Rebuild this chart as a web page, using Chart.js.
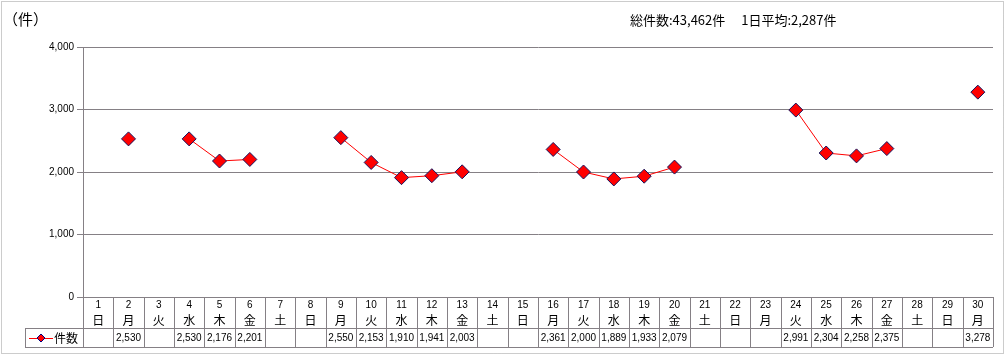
<!DOCTYPE html>
<html><head><meta charset="utf-8">
<script src="https://cdn.jsdelivr.net/npm/chart.js@4"></script>
<style>html,body{margin:0;padding:0;background:#fff;}canvas{display:block;}</style>
</head><body>
<canvas id="c" width="1006" height="355"></canvas>
<script>
const days = ['1','2','3','4','5','6','7','8','9','10','11','12','13','14','15','16','17','18','19','20','21','22','23','24','25','26','27','28','29','30'];
const weekdays = ['日','月','火','水','木','金','土','日','月','火','水','木','金','土','日','月','火','水','木','金','土','日','月','火','水','木','金','土','日','月'];
const counts = [null,2530,null,2530,2176,2201,null,null,2550,2153,1910,1941,2003,null,null,2361,2000,1889,1933,2079,null,null,null,2991,2304,2258,2375,null,null,3278];
const seriesName = '件数';
const unitLabel = '（件）';
const summaryText = '総件数:43,462件　 1日平均:2,287件';
const yTicks = [0,1000,2000,3000,4000];

const fmt = v => v.toLocaleString('en-US');
const JP = '"Noto Sans CJK JP", "Noto Sans", sans-serif';
const NUM = '"Liberation Sans", Arial, sans-serif';
const GRID = '#858085';

const tablePlugin = {
  id: 'tablePlugin',
  beforeDraw(chart) {
    const ctx = chart.ctx;
    ctx.save();
    ctx.fillStyle = '#fff';
    ctx.fillRect(0,0,chart.width,chart.height);
    ctx.strokeStyle = '#999';
    ctx.setLineDash([1,1]);
    ctx.lineWidth = 1;
    ctx.strokeRect(1.5,1.5,chart.width-4,chart.height-3);
    ctx.restore();
  },
  afterDraw(chart) {
    const ctx = chart.ctx;
    const xs = chart.scales.x;
    const area = chart.chartArea;
    const n = days.length;
    const w = (area.right - area.left) / n;
    const top = area.bottom, midY = top + 31, bot = top + 50, legL = 25;
    ctx.save();
    ctx.strokeStyle = GRID;
    ctx.lineWidth = 1;
    ctx.beginPath();
    ctx.moveTo(area.left, top + 0.5); ctx.lineTo(area.right, top + 0.5);
    ctx.moveTo(legL, midY + 0.5); ctx.lineTo(area.right, midY + 0.5);
    ctx.moveTo(legL, bot + 0.5); ctx.lineTo(area.right, bot + 0.5);
    ctx.moveTo(legL + 0.5, midY); ctx.lineTo(legL + 0.5, bot);
    for (let i = 0; i <= n; i++) {
      const cx = i < n ? xs.getPixelForValue(i) - w/2 : xs.getPixelForValue(n-1) + w/2;
      const px = Math.round(cx) + 0.5;
      ctx.moveTo(px, top); ctx.lineTo(px, bot);
    }
    ctx.stroke();
    ctx.fillStyle = '#000';
    ctx.textAlign = 'center';
    ctx.textBaseline = 'middle';
    for (let i = 0; i < n; i++) {
      const cx = xs.getPixelForValue(i);
      ctx.font = '10px ' + NUM;
      ctx.fillText(days[i], cx, top + 8);
      ctx.font = '12px ' + JP;
      ctx.fillText(weekdays[i], cx, top + 23);
      if (counts[i] !== null) {
        ctx.font = '10px ' + NUM;
        ctx.fillText(fmt(counts[i]), cx, midY + 10);
      }
    }
    // legend
    const ly = midY + 10;
    ctx.strokeStyle = '#ff0000';
    ctx.beginPath(); ctx.moveTo(29, ly + 0.5); ctx.lineTo(53, ly + 0.5); ctx.stroke();
    ctx.fillStyle = '#ff0000';
    ctx.strokeStyle = '#000080';
    ctx.beginPath();
    ctx.moveTo(41, ly - 4); ctx.lineTo(45, ly); ctx.lineTo(41, ly + 4); ctx.lineTo(37, ly); ctx.closePath();
    ctx.fill(); ctx.stroke();
    ctx.fillStyle = '#000';
    ctx.textAlign = 'left';
    ctx.font = '12px ' + JP;
    ctx.fillText(seriesName, 54, ly);
    // header texts
    ctx.font = '15px ' + JP;
    ctx.fillText(unitLabel, 3, 19);
    ctx.font = '13px ' + JP;
    ctx.fillText(summaryText, 630, 20);
    ctx.restore();
  }
};

new Chart(document.getElementById('c'), {
  type: 'line',
  data: {
    labels: days,
    datasets: [{
      label: seriesName,
      data: counts,
      borderColor: '#ff0000',
      borderWidth: 1,
      backgroundColor: '#ff0000',
      pointStyle: 'rectRot',
      pointRadius: 7,
      pointBorderColor: '#14145e',
      pointBorderWidth: 1,
      pointBackgroundColor: '#ff0000',
      spanGaps: false,
      tension: 0
    }]
  },
  options: {
    responsive: false,
    animation: false,
    devicePixelRatio: 1,
    layout: { padding: { top: 47, right: 13, bottom: 58, left: 0 } },
    plugins: { legend: { display: false }, tooltip: { enabled: false } },
    scales: {
      x: { display: false, offset: true },
      y: {
        min: 0, max: 4000,
        afterFit(s) { s.width = 83; },
        afterBuildTicks(s) { s.ticks = yTicks.map(v => ({ value: v })); },
        ticks: { color: '#000', font: { size: 10, family: NUM }, padding: 3, callback: v => fmt(v) },
        grid: { color: GRID, tickLength: 6, drawOnChartArea: true, tickColor: GRID },
        border: { display: true, color: GRID }
      }
    }
  },
  plugins: [tablePlugin]
});
</script>
</body></html>
